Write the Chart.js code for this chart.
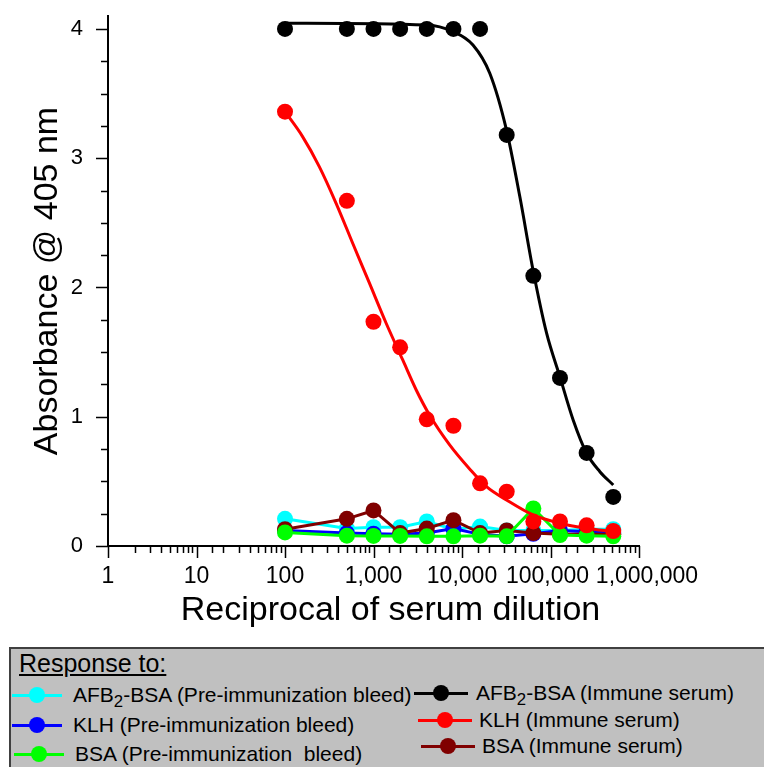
<!DOCTYPE html>
<html>
<head>
<meta charset="utf-8">
<script src="https://cdn.jsdelivr.net/npm/chart.js@4.4.1/dist/chart.umd.min.js"></script>
<style>
  body { margin: 0; background: #fff; font-family: 'Liberation Sans', Arial, sans-serif; }
  #wrap { position: relative; width: 764px; height: 767px; overflow: hidden; }
  #chart { position: absolute; left: 0; top: 0; }
  #legendBox { position: absolute; left: 9px; top: 647px; width: 760px; height: 125px;
    background: #c0c0c0; border-left: 2px solid #404040; border-top: 2px solid #404040; }
  .lg-title { position: absolute; font-size: 25px; text-decoration: underline; line-height: 28px; }
  .lg-line { position: absolute; height: 3px; }
  .lg-dot { position: absolute; width: 16px; height: 16px; border-radius: 50%; }
  .lg-text { position: absolute; font-size: 21px; line-height: 24px; white-space: pre; }
  .lg-text sub { font-size: 0.8em; vertical-align: -0.3em; line-height: 0; }
</style>
</head>
<body>
<div id="wrap">
  <canvas id="chart" width="764" height="640"></canvas>
  <div id="legendBox"></div>
</div>
<script>
// dilution steps (reciprocal)
const dilutions = [100, 500, 1000, 2000, 4000, 8000, 16000, 32000, 64000, 128000, 256000, 512000];

// measured absorbance
const afbPre    = [0.21, 0.135, 0.145, 0.145, 0.19, 0.13, 0.15, 0.12, 0.12, 0.12, 0.13, 0.13];
const klhPre    = [0.12, 0.10, 0.095, 0.09, 0.10, 0.135, 0.09, 0.075, 0.095, 0.12, 0.11, 0.10];
const bsaPre    = [0.105, 0.08, 0.078, 0.078, 0.075, 0.075, 0.08, 0.075, 0.29, 0.085, 0.08, 0.075];
const afbImmune = [4.0, 4.0, 4.0, 4.0, 4.0, 4.0, 4.0, 3.18, 2.09, 1.30, 0.72, 0.38];
const klhImmune = [3.36, 2.67, 1.735, 1.537, 0.98, 0.93, 0.485, 0.42, 0.19, 0.19, 0.16, 0.116];
const bsaImmune = [0.13, 0.21, 0.275, 0.10, 0.135, 0.20, 0.10, 0.12, 0.10, 0.09, 0.09, 0.09];

// fitted curves
const afbFitX = [100, 3940, 7890, 13300, 20600, 31800, 45000, 63500, 90200, 127600, 180300, 255900, 361400, 511700];
const afbFitY = [4.044, 4.03, 3.98, 3.876, 3.657, 3.219, 2.703, 2.135, 1.648, 1.31, 0.975, 0.717, 0.575, 0.472];
const klhFitX = [100, 158, 244, 378, 582, 900, 1390, 2140, 3040, 4300, 7250, 12200, 18900, 31800, 63500, 127600, 255900, 511700];
const klhFitY = [3.36, 3.167, 2.935, 2.651, 2.342, 2.033, 1.723, 1.439, 1.207, 1.013, 0.782, 0.596, 0.459, 0.356, 0.24, 0.176, 0.137, 0.111];

const xTickLabels = ['1', '10', '100', '1,000', '10,000', '100,000', '1,000,000'];
const yTickLabels = ['0', '1', '2', '3', '4'];
const xTitle = 'Reciprocal of serum dilution';
const yTitle = 'Absorbance @ 405 nm';

// the last two x labels sit a little apart so they don't run together
const xLabelShift = { 5: -3, 6: 8 };

const colors = {
  afbPre: '#00ffff', klhPre: '#0000ff', bsaPre: '#00ff00',
  afbImmune: '#000000', klhImmune: '#ff0000', bsaImmune: '#800000'
};

const FONT = "'Liberation Sans', Arial, sans-serif";

function pts(xs, ys) {
  return xs.map((x, i) => ({ x: x, y: ys[i] }));
}

function isPow10(v) {
  const l = Math.log10(v);
  return Math.abs(l - Math.round(l)) < 1e-9;
}

function seriesLine(data, color, order) {
  return {
    data: pts(dilutions, data),
    borderColor: color,
    backgroundColor: color,
    borderWidth: 3,
    pointRadius: 8,
    pointBorderWidth: 0,
    tension: 0,
    clip: false,
    order: order
  };
}

function markersOnly(data, color, order) {
  const ds = seriesLine(data, color, order);
  ds.showLine = false;
  return ds;
}

function fitCurve(xs, ys, color, order) {
  return {
    data: pts(xs, ys),
    borderColor: color,
    borderWidth: 3,
    pointRadius: 0,
    cubicInterpolationMode: 'monotone',
    clip: false,
    order: order
  };
}

const axisExtras = {
  id: 'axisExtras',
  afterDraw(chart) {
    const { ctx, chartArea } = chart;
    const xs = chart.scales.x, ys = chart.scales.y;
    ctx.save();
    ctx.strokeStyle = '#000';
    ctx.lineWidth = 1.5;
    ctx.beginPath();
    ys.ticks.forEach(t => {
      const q = t.value * 4;
      if (Math.abs(q - Math.round(q)) > 1e-6) return;
      const p = Math.round(ys.getPixelForValue(t.value)) + 0.5;
      const len = Math.abs(t.value - Math.round(t.value)) < 1e-6 ? 12 : 7;
      ctx.moveTo(chartArea.left - len, p);
      ctx.lineTo(chartArea.left, p);
    });
    xs.ticks.forEach(t => {
      const p = Math.round(xs.getPixelForValue(t.value)) + 0.5;
      const len = isPow10(t.value) ? 12 : 7;
      ctx.moveTo(p, chartArea.bottom);
      ctx.lineTo(p, chartArea.bottom + len);
    });
    ctx.stroke();

    ctx.fillStyle = '#000';
    ctx.textAlign = 'center';
    ctx.textBaseline = 'middle';
    ctx.font = '23px ' + FONT;
    xs.ticks.forEach(t => {
      if (!isPow10(t.value)) return;
      const i = Math.round(Math.log10(t.value));
      ctx.fillText(xTickLabels[i], xs.getPixelForValue(t.value) + (xLabelShift[i] || 0), chartArea.bottom + 31);
    });

    ctx.font = '34px ' + FONT;
    ctx.fillText(xTitle, (chartArea.left + chartArea.right) / 2 + 17, 611);
    ctx.restore();
  }
};

new Chart(document.getElementById('chart'), {
  type: 'line',
  data: {
    datasets: [
      markersOnly(afbImmune, colors.afbImmune, 0),
      fitCurve(afbFitX, afbFitY, colors.afbImmune, 1),
      markersOnly(klhImmune, colors.klhImmune, 2),
      fitCurve(klhFitX, klhFitY, colors.klhImmune, 3),
      seriesLine(bsaPre, colors.bsaPre, 4),
      seriesLine(bsaImmune, colors.bsaImmune, 5),
      seriesLine(klhPre, colors.klhPre, 6),
      seriesLine(afbPre, colors.afbPre, 7)
    ]
  },
  options: {
    responsive: false,
    animation: false,
    layout: { padding: { top: 16, right: 125, left: 0, bottom: 0 } },
    plugins: { legend: { display: false }, tooltip: { enabled: false } },
    scales: {
      x: {
        type: 'logarithmic',
        min: 1,
        max: 1000000,
        afterFit(scale) { scale.height = 94; },
        grid: { display: false, drawTicks: false },
        border: { display: true, color: '#000', width: 2 },
        ticks: { display: false, autoSkip: false, maxRotation: 0 },
        title: { display: false }
      },
      y: {
        min: 0,
        max: 4.1,
        afterFit(scale) { scale.width = 108; },
        grid: { display: false, drawTicks: true, tickLength: 25 },
        border: { display: true, color: '#000', width: 2 },
        ticks: {
          stepSize: 0.25,
          includeBounds: false,
          autoSkip: false,
          padding: 0,
          color: '#000',
          font: { family: FONT, size: 22 },
          callback: v => Math.abs(v - Math.round(v)) < 1e-6 ? yTickLabels[Math.round(v)] : ''
        },
        title: {
          display: true,
          text: yTitle,
          color: '#000',
          font: { family: FONT, size: 34 },
          padding: { top: 27, bottom: 0 }
        }
      }
    }
  },
  plugins: [axisExtras]
});

// legend, drawn as html so the subscript stays real text
const legendTitle = 'Response to:';
const legendLabels = [
  'AFB<sub>2</sub>-BSA (Pre-immunization bleed)',
  'KLH (Pre-immunization bleed)',
  'BSA (Pre-immunization  bleed)',
  'AFB<sub>2</sub>-BSA (Immune serum)',
  'KLH (Immune serum)',
  'BSA (Immune serum)'
];
const legendColors = [colors.afbPre, colors.klhPre, colors.bsaPre, colors.afbImmune, colors.klhImmune, colors.bsaImmune];
// placement of each entry: line start, line length, text start, row centre
const legendPlace = [
  [12, 50, 73, 695], [12, 50, 73, 725], [14, 50, 75, 754],
  [414, 54, 476, 693], [418, 54, 479, 720], [421, 54, 482, 746]
];

const wrap = document.getElementById('wrap');
function add(cls, css, html) {
  const el = document.createElement('div');
  el.className = cls;
  Object.assign(el.style, css);
  if (html) el.innerHTML = html;
  wrap.appendChild(el);
  return el;
}
add('lg-title', { left: '19px', top: '649px' }, legendTitle);
legendLabels.forEach((lab, i) => {
  const [lx, lw, tx, cy] = legendPlace[i];
  add('lg-line', { left: lx + 'px', top: (cy - 1.5) + 'px', width: lw + 'px', background: legendColors[i] });
  add('lg-dot', { left: (lx + lw / 2 - 8) + 'px', top: (cy - 8) + 'px', background: legendColors[i] });
  add('lg-text', { left: tx + 'px', top: (cy - 12) + 'px' }, lab);
});
</script>
</body>
</html>
